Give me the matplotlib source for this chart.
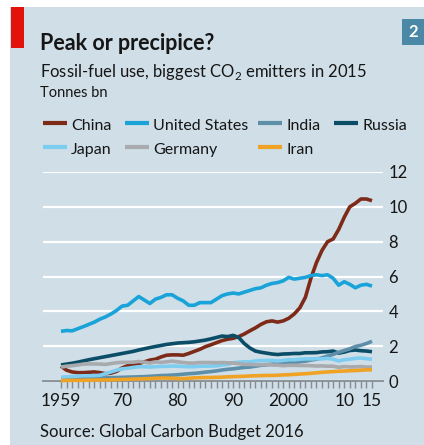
import matplotlib.pyplot as plt
from matplotlib.lines import Line2D
from matplotlib.patches import Rectangle

# figure size in pixels (dpi 100)
W, H = 424, 445

# fossil-fuel CO2 emissions, tonnes bn, 1959-2015
years = list(range(1959, 2016))

china = [0.85, 0.62, 0.52, 0.48, 0.48, 0.50, 0.52, 0.48, 0.42, 0.45,
         0.55, 0.75, 0.88, 0.95, 1.00, 1.10, 1.20, 1.25, 1.38, 1.48,
         1.50, 1.50, 1.48, 1.58, 1.70, 1.82, 1.97, 2.08, 2.20, 2.32,
         2.40, 2.45, 2.55, 2.70, 2.88, 3.05, 3.25, 3.40, 3.45, 3.38,
         3.45, 3.60, 3.85, 4.20, 4.80, 5.90, 6.80, 7.50, 8.00, 8.15,
         8.70, 9.40, 10.00, 10.20, 10.45, 10.45, 10.35]

united_states = [2.85, 2.90, 2.88, 3.00, 3.12, 3.25, 3.38, 3.55, 3.68, 3.85,
                 4.05, 4.30, 4.35, 4.60, 4.85, 4.65, 4.45, 4.70, 4.80, 4.95,
                 4.95, 4.75, 4.60, 4.35, 4.35, 4.50, 4.50, 4.50, 4.70, 4.90,
                 5.00, 5.05, 5.00, 5.10, 5.20, 5.30, 5.35, 5.50, 5.60, 5.65,
                 5.75, 5.95, 5.85, 5.90, 5.95, 6.05, 6.10, 6.05, 6.10, 5.90,
                 5.50, 5.70, 5.55, 5.35, 5.50, 5.55, 5.45]

india = [0.11, 0.12, 0.13, 0.14, 0.15, 0.16, 0.17, 0.17, 0.18, 0.19,
         0.20, 0.21, 0.22, 0.23, 0.24, 0.25, 0.27, 0.29, 0.31, 0.32,
         0.34, 0.36, 0.39, 0.42, 0.44, 0.47, 0.51, 0.54, 0.58, 0.63,
         0.67, 0.70, 0.74, 0.78, 0.80, 0.85, 0.90, 0.93, 0.97, 0.99,
         1.02, 1.05, 1.07, 1.10, 1.14, 1.20, 1.25, 1.33, 1.43, 1.53,
         1.65, 1.75, 1.85, 1.98, 2.05, 2.15, 2.28]

russia = [0.92, 0.97, 1.02, 1.08, 1.15, 1.22, 1.28, 1.34, 1.40, 1.46,
          1.52, 1.58, 1.64, 1.70, 1.78, 1.85, 1.92, 1.98, 2.04, 2.10,
          2.14, 2.18, 2.20, 2.22, 2.25, 2.30, 2.35, 2.42, 2.50, 2.58,
          2.55, 2.62, 2.50, 2.15, 1.90, 1.72, 1.65, 1.60, 1.55, 1.52,
          1.55, 1.56, 1.58, 1.58, 1.62, 1.62, 1.63, 1.67, 1.68, 1.72,
          1.60, 1.66, 1.75, 1.78, 1.74, 1.72, 1.68]

japan = [0.22, 0.24, 0.26, 0.28, 0.30, 0.30, 0.31, 0.33, 0.42, 0.52,
         0.62, 0.70, 0.73, 0.78, 0.82, 0.82, 0.80, 0.82, 0.84, 0.84,
         0.86, 0.85, 0.83, 0.82, 0.82, 0.85, 0.85, 0.86, 0.87, 0.92,
         0.95, 1.05, 1.08, 1.10, 1.10, 1.15, 1.17, 1.18, 1.18, 1.15,
         1.18, 1.22, 1.22, 1.25, 1.27, 1.27, 1.28, 1.27, 1.30, 1.25,
         1.15, 1.22, 1.25, 1.30, 1.32, 1.28, 1.25]

germany = [0.80, 0.85, 0.88, 0.92, 0.97, 0.98, 0.98, 0.97, 0.95, 1.00,
           1.05, 1.07, 1.07, 1.08, 1.12, 1.08, 1.03, 1.10, 1.07, 1.10,
           1.14, 1.10, 1.06, 1.03, 1.03, 1.06, 1.06, 1.06, 1.05, 1.06,
           1.04, 1.03, 1.00, 0.95, 0.95, 0.93, 0.93, 0.95, 0.92, 0.91,
           0.88, 0.90, 0.90, 0.89, 0.89, 0.88, 0.86, 0.87, 0.85, 0.85,
           0.79, 0.83, 0.81, 0.81, 0.83, 0.80, 0.80]

iran = [0.03, 0.03, 0.04, 0.04, 0.04, 0.05, 0.05, 0.06, 0.06, 0.07,
        0.08, 0.09, 0.10, 0.11, 0.12, 0.13, 0.14, 0.16, 0.17, 0.17,
        0.16, 0.14, 0.14, 0.16, 0.18, 0.19, 0.20, 0.20, 0.21, 0.22,
        0.24, 0.25, 0.26, 0.27, 0.29, 0.30, 0.31, 0.32, 0.32, 0.33,
        0.35, 0.36, 0.38, 0.40, 0.42, 0.44, 0.47, 0.50, 0.52, 0.54,
        0.56, 0.57, 0.59, 0.60, 0.62, 0.64, 0.64]

series_names = ["China", "United States", "India", "Russia", "Japan", "Germany", "Iran"]
series_values = [china, united_states, india, russia, japan, germany, iran]
series_colors = ["#7d2a18", "#1aa3d9", "#5e8fa9", "#0b4d66", "#7dcdf0", "#a8aaad", "#f0a225"]
# drawing order, bottom first
series_z = [2, 3, 5, 4, 6, 7, 8]

x_tick_years = [1959, 1970, 1980, 1990, 2000, 2010, 2015]
x_tick_labels = ["1959", "70", "80", "90", "2000", "10", "15"]
y_ticks = [0, 2, 4, 6, 8, 10, 12]

BG = "#cfdee7"
INK = "#161616"
AXIS_GREY = "#858c91"


def fx(px):
    return px / W


def fy(py):
    return 1 - py / H


plt.rcParams['font.family'] = ['Lato', 'DejaVu Sans']

fig = plt.figure(figsize=(W / 100, H / 100), dpi=100)
fig.patch.set_facecolor('white')

# panel background, red tag, chart number box
fig.add_artist(Rectangle((fx(10), 0), 1 - fx(10), fy(7), transform=fig.transFigure,
                         facecolor=BG, edgecolor='none', zorder=0))
fig.add_artist(Rectangle((fx(11), fy(48)), fx(24) - fx(11), fy(7) - fy(48),
                         transform=fig.transFigure, facecolor="#e3120b",
                         edgecolor='none', zorder=1))
fig.add_artist(Rectangle((fx(402), fy(45)), 1 - fx(402), fy(19) - fy(45),
                         transform=fig.transFigure, facecolor="#4a88a6",
                         edgecolor='none', zorder=1))
fig.text(fx(413), fy(32), "2", color='white', fontsize=12, fontweight='bold',
         ha='center', va='center')

# titles
fig.text(fx(40), fy(50), "Peak or precipice?", fontsize=15.5, fontweight='bold',
         color=INK, va='baseline')
fig.text(fx(40), fy(77), r"Fossil-fuel use, biggest CO$_\mathregular{2}$ emitters in 2015",
         fontsize=12, color=INK, va='baseline')
fig.text(fx(40), fy(97), "Tonnes bn", fontsize=10.5, color=INK, va='baseline')
fig.text(fx(40), fy(437), "Source: Global Carbon Budget 2016", fontsize=12,
         color=INK, va='baseline')

# legend, laid out by hand in two rows
legend_slots = [(43, 123), (125, 123), (258, 123), (334, 123),
                (43, 147), (125, 147), (258, 147)]
for name, color, (sx, sy) in zip(series_names, series_colors, legend_slots):
    fig.add_artist(Line2D([fx(sx), fx(sx + 24)], [fy(sy), fy(sy)],
                          transform=fig.transFigure, color=color, lw=3,
                          solid_capstyle='butt'))
    fig.text(fx(sx + 28), fy(sy + 7), name, fontsize=11.5, color=INK, va='baseline')

# plot area
ax = fig.add_axes([fx(43), fy(381), fx(383) - fx(43), fy(172) - fy(381)])
ax.set_facecolor('none')
ax.set_xlim(1959 - 18 / 5.55, 2015 + 11 / 5.55)
ax.set_ylim(0, 12)

for name, vals, color, z in zip(series_names, series_values, series_colors, series_z):
    ax.plot(years, vals, color=color, lw=2.6, solid_capstyle='butt',
            solid_joinstyle='round', clip_on=False, zorder=z, label=name)

ax.yaxis.grid(True, color='white', lw=1.6)
ax.set_axisbelow(True)
for side in ['top', 'left', 'right']:
    ax.spines[side].set_visible(False)
ax.spines['bottom'].set_color(AXIS_GREY)
ax.spines['bottom'].set_linewidth(1.3)
ax.spines['bottom'].set_zorder(1)

ax.yaxis.tick_right()
ax.set_yticks(y_ticks)
ax.tick_params(axis='y', length=0, pad=4, labelsize=12, labelcolor=INK)

ax.set_xticks(x_tick_years, labels=x_tick_labels)
ax.set_xticks(years, minor=True)
ax.tick_params(axis='x', which='both', direction='out', length=5, width=1,
               color=AXIS_GREY, labelsize=12.5, labelcolor=INK, pad=4)

plt.savefig("out.png", dpi=100, facecolor='white')
